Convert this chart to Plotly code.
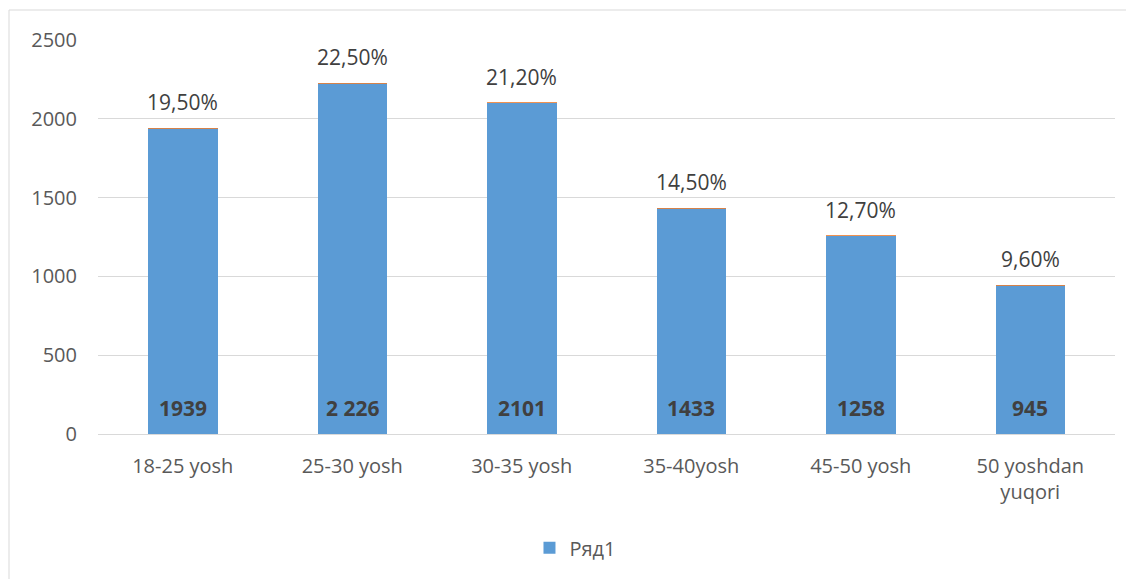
import plotly.graph_objects as go

categories = ["18-25 yosh", "25-30 yosh", "30-35 yosh", "35-40yosh", "45-50 yosh", "50 yoshdan<br>yuqori"]
counts = [1939, 2226, 2101, 1433, 1258, 945]
count_labels = ["1939", "2 226", "2101", "1433", "1258", "945"]
shares = [0.195, 0.225, 0.212, 0.145, 0.127, 0.096]
share_labels = ["19,50%", "22,50%", "21,20%", "14,50%", "12,70%", "9,60%"]
y_ticks = [0, 500, 1000, 1500, 2000, 2500]

FONT = "Open Sans"

fig = go.Figure()
fig.add_trace(go.Bar(
    x=categories, y=counts, name="Ряд1",
    marker=dict(color="#5B9BD5", line=dict(width=0)),
))
fig.add_trace(go.Bar(
    x=categories, y=shares, name="Ряд2", showlegend=False,
    marker=dict(color="#ED7D31", line=dict(color="#ED7D31", width=0.6)),
))

annotations = []
for c, v, s, cl, sl in zip(categories, counts, shares, count_labels, share_labels):
    annotations.append(dict(x=c, y=0, text=cl, showarrow=False, yanchor="middle", yshift=26,
                            font=dict(family=FONT, size=21, color="#404040", weight="bold")))
    annotations.append(dict(x=c, y=v + s, text=sl, showarrow=False, yanchor="middle", yshift=26,
                            font=dict(family=FONT, size=21, color="#404040")))

W, H = 1126, 571
L, T = 90, 32
PW, PH = 1017, 394
R, B = W - L - PW, H - T - PH

fig.update_layout(
    width=W, height=H,
    barmode="stack", bargap=0.59,
    margin=dict(l=L, r=R, t=T, b=B),
    plot_bgcolor="white", paper_bgcolor="white",
    font=dict(family=FONT, size=20, color="#595959"),
    xaxis=dict(showgrid=False, showline=True, linecolor="#D9D9D9", linewidth=1,
               ticks="", ticklabelstandoff=14, tickfont=dict(size=20, color="#595959")),
    yaxis=dict(range=[0, 2500], tickvals=y_ticks, showgrid=True, gridcolor="#D9D9D9",
               zeroline=False, showline=False, ticks="", ticklabelstandoff=20,
               tickfont=dict(size=20, color="#595959")),
    legend=dict(orientation="h", x=0.4695, xanchor="center", y=-0.289, yanchor="middle",
                font=dict(size=20, color="#595959")),
    annotations=annotations,
    shapes=[dict(type="rect", xref="paper", yref="paper",
                 x0=(1 - L) / PW, x1=(W + 20 - L) / PW,
                 y0=-(H + 20 - T - PH) / PH, y1=1 + (T - 2) / PH,
                 line=dict(color="#D9D9D9", width=1), layer="below")],
)

fig.write_html("out.html")
